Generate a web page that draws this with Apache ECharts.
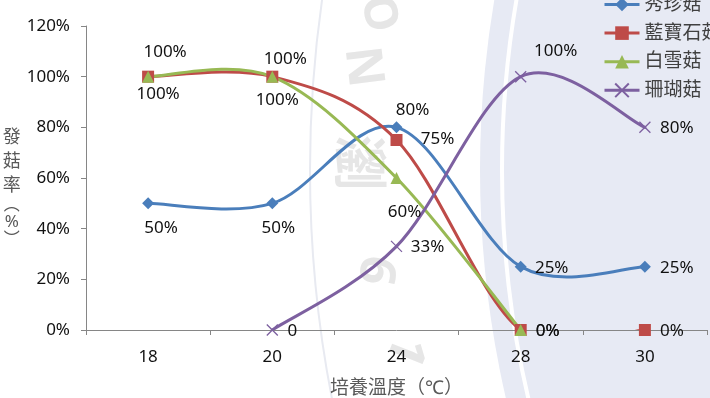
<!DOCTYPE html>
<html>
<head>
<meta charset="utf-8">
<script src="https://cdn.jsdelivr.net/npm/echarts/dist/echarts.min.js"></script>
<style>
  html, body { margin: 0; padding: 0; background: #fff; }
  #main { width: 710px; height: 398px; }
</style>
</head>
<body>
<div id="main"></div>
<script>
// 培養溫度 (℃)
var categories = ['18', '20', '24', '28', '30'];
// 發菇率 (%)
var oyster = [50, 50, 80, 25, 25];        // 秀珍菇
var sapphire = [100, 100, 75, 0, 0];      // 藍寶石菇
var snow = [100, 100, 60, 0, '-'];        // 白雪菇
var coral = ['-', 0, 33, 100, 80];        // 珊瑚菇
var yMin = 0, yMax = 120, yStep = 20;

// label centre offsets from each point (px)
var oysterLabelOff = [[13, 25], [6, 25], [16, -17], [31, 1], [32, 1]];
var sapphireLabelOff = [[17, -25], [13, -18], [41, -1], [27, 1], [27, 1]];
var snowLabelOff = [[10, 17], [5, 23], [8, 34], [27, 1], [0, 0]];
var coralLabelOff = [[0, 0], [20, 1], [31, 1], [35, -26], [32, 1]];

var FONT = '"Noto Sans", "Noto Sans CJK TC", sans-serif';
var xMark = 'path://M0,0L10,10M10,0L0,10';

function buildData(values, offsets) {
  return values.map(function (v, i) {
    if (v === '-') return '-';
    return { value: v, label: { offset: offsets[i] } };
  });
}

// markers + labels (line itself hidden, the curve is drawn by curveSeries)
function markSeries(name, values, offsets, color, symbol, size) {
  return {
    name: name,
    type: 'line',
    data: buildData(values, offsets),
    symbol: symbol,
    symbolSize: size,
    showAllSymbol: true,
    lineStyle: { width: 3, color: color, opacity: 0 },
    itemStyle: { color: color, borderColor: color, borderWidth: symbol === xMark ? 1.3 : 0 },
    label: {
      show: true,
      position: 'inside',
      fontSize: 17,
      fontFamily: FONT,
      color: '#111',
      formatter: function (p) {
        if (name === '珊瑚菇' && p.dataIndex === 1) return '0';
        return p.value + '%';
      }
    },
    emphasis: { disabled: true },
    z: 4
  };
}

// smoothed line like the spreadsheet: cubic bezier, control points at 1/6 of neighbour span
function curveSeries(name, values, color) {
  return {
    name: name,
    type: 'custom',
    clip: true,
    silent: true,
    z: 3,
    data: values.map(function (v, i) { return [i, v === '-' ? 0 : v]; }),
    renderItem: function (params, api) {
      var i = params.dataIndex;
      if (i >= values.length - 1 || values[i] === '-' || values[i + 1] === '-') return null;
      function pt(k) {
        if (k < 0 || k >= values.length || values[k] === '-') return null;
        return api.coord([k, values[k]]);
      }
      var p1 = pt(i), p2 = pt(i + 1);
      var p0 = pt(i - 1) || p1, p3 = pt(i + 2) || p2;
      return {
        type: 'bezierCurve',
        shape: {
          x1: p1[0], y1: p1[1], x2: p2[0], y2: p2[1],
          cpx1: p1[0] + (p2[0] - p0[0]) / 6, cpy1: p1[1] + (p2[1] - p0[1]) / 6,
          cpx2: p2[0] - (p3[0] - p1[0]) / 6, cpy2: p2[1] - (p3[1] - p1[1]) / 6
        },
        style: { stroke: color, lineWidth: 3, fill: null, lineCap: 'round' }
      };
    }
  };
}

var myChart = echarts.init(document.getElementById('main'));
var option = {
  backgroundColor: '#fff',
  animation: false,
  graphic: [
    { type: 'circle', shape: { cx: 1500, cy: 170, r: 1020 }, style: { fill: '#e7eaf4' }, z: -10, silent: true },
    { type: 'circle', shape: { cx: 1500, cy: 170, r: 998 }, style: { fill: 'none', stroke: '#ffffff', lineWidth: 4 }, z: -9, silent: true },
    { type: 'circle', shape: { cx: 1500, cy: 170, r: 1190 }, style: { fill: 'none', stroke: '#e8eaf1', lineWidth: 2 }, z: -9, silent: true },
    { type: 'text', x: 378, y: 14, rotation: -1.35, style: { text: 'O', fontSize: 46, fontWeight: 'bold', fill: '#e6e6e6', align: 'center', verticalAlign: 'middle', fontFamily: FONT }, z: -8, silent: true },
    { type: 'text', x: 362, y: 67, rotation: -1.45, style: { text: 'N', fontSize: 50, fontWeight: 'bold', fill: '#e6e6e6', align: 'center', verticalAlign: 'middle', fontFamily: FONT }, z: -8, silent: true },
    { type: 'text', x: 355, y: 163, rotation: -1.57, style: { text: '瀏', fontSize: 56, fontWeight: 'bold', fill: '#e6e6e6', align: 'center', verticalAlign: 'middle', fontFamily: FONT }, z: -8, silent: true },
    { type: 'text', x: 375, y: 270, rotation: -1.75, style: { text: '6', fontSize: 50, fontWeight: 'bold', fill: '#e6e6e6', align: 'center', verticalAlign: 'middle', fontFamily: FONT }, z: -8, silent: true },
    { type: 'text', x: 405, y: 350, rotation: -1.95, style: { text: '1', fontSize: 50, fontWeight: 'bold', fill: '#e6e6e6', align: 'center', verticalAlign: 'middle', fontFamily: FONT }, z: -8, silent: true }
  ],
  legend: {
    orient: 'vertical',
    left: 603,
    top: -5,
    padding: 0,
    itemWidth: 35,
    itemHeight: 17,
    itemGap: 9.6,
    data: ['秀珍菇', '藍寶石菇', '白雪菇', '珊瑚菇'],
    lineStyle: { opacity: 1, width: 3 },
    textStyle: { fontSize: 19, color: '#404040', fontFamily: FONT }
  },
  grid: { left: 86, right: 3, top: 26, bottom: 68, outerBoundsMode: 'none' },
  xAxis: {
    type: 'category',
    data: categories,
    boundaryGap: true,
    name: '培養溫度（℃）',
    nameLocation: 'middle',
    nameGap: 49,
    nameTextStyle: { fontSize: 19, color: '#595959', fontFamily: FONT },
    axisLine: { lineStyle: { color: '#868686', width: 1 } },
    axisTick: { show: true, length: 5, lineStyle: { color: '#868686' } },
    axisLabel: { fontSize: 17, color: '#111', margin: 19, fontFamily: FONT },
    splitLine: { show: false }
  },
  yAxis: {
    type: 'value',
    min: yMin,
    max: yMax,
    interval: yStep,
    name: '{a|發}\n{a|菇}\n{a|率}\n{b|︵}\n{c|%}\n{b|︶}',
    nameLocation: 'middle',
    nameRotate: 0,
    nameGap: 71,
    nameTextStyle: {
      color: '#595959', align: 'center', verticalAlign: 'middle', fontFamily: FONT,
      padding: [16, 0, 0, 0],
      rich: {
        a: { fontSize: 18, lineHeight: 24, color: '#595959', fontFamily: FONT, align: 'center' },
        b: { fontSize: 16, lineHeight: 14, color: '#595959', fontFamily: FONT, align: 'center' },
        c: { fontSize: 17, lineHeight: 20, color: '#595959', fontFamily: FONT, align: 'center' }
      }
    },
    axisLine: { show: true, lineStyle: { color: '#868686', width: 1 } },
    axisTick: { show: true, length: 5, lineStyle: { color: '#868686' } },
    axisLabel: { fontSize: 17, color: '#111', margin: 16, fontFamily: FONT, formatter: '{value}%' },
    splitLine: { show: false }
  },
  series: [
    markSeries('秀珍菇', oyster, oysterLabelOff, '#4a7ebb', 'diamond', [12, 12]),
    markSeries('藍寶石菇', sapphire, sapphireLabelOff, '#be4b48', 'rect', 12),
    markSeries('白雪菇', snow, snowLabelOff, '#98b954', 'triangle', 12),
    markSeries('珊瑚菇', coral, coralLabelOff, '#7d60a0', xMark, 11),
    curveSeries('秀珍菇', oyster, '#4a7ebb'),
    curveSeries('藍寶石菇', sapphire, '#be4b48'),
    curveSeries('白雪菇', snow, '#98b954'),
    curveSeries('珊瑚菇', coral, '#7d60a0')
  ]
};
option && myChart.setOption(option);
</script>
</body>
</html>
